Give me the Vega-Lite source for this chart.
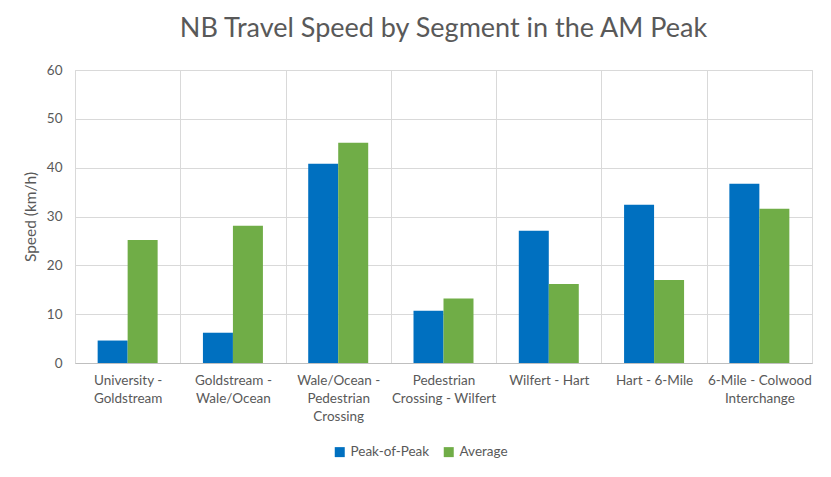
{
  "$schema": "https://vega.github.io/schema/vega-lite/v6.json",
  "autosize": "none",
  "width": 737,
  "height": 293,
  "padding": {"left": 75, "top": 70, "right": 19, "bottom": 114},
  "background": "white",
  "title": {
    "text": "NB Travel Speed by Segment in the AM Peak",
    "font": "Lato",
    "fontSize": 27,
    "fontWeight": "normal",
    "color": "#595959",
    "anchor": "middle",
    "offset": 20
  },
  "data": {
    "values": [
      {"segment": "University -|Goldstream", "series": "Peak-of-Peak", "speed": 4.6},
      {"segment": "University -|Goldstream", "series": "Average", "speed": 25.2},
      {"segment": "Goldstream -|Wale/Ocean", "series": "Peak-of-Peak", "speed": 6.2},
      {"segment": "Goldstream -|Wale/Ocean", "series": "Average", "speed": 28.1},
      {"segment": "Wale/Ocean -|Pedestrian|Crossing", "series": "Peak-of-Peak", "speed": 40.8},
      {"segment": "Wale/Ocean -|Pedestrian|Crossing", "series": "Average", "speed": 45.1},
      {"segment": "Pedestrian|Crossing - Wilfert", "series": "Peak-of-Peak", "speed": 10.7},
      {"segment": "Pedestrian|Crossing - Wilfert", "series": "Average", "speed": 13.2},
      {"segment": "Wilfert - Hart", "series": "Peak-of-Peak", "speed": 27.1},
      {"segment": "Wilfert - Hart", "series": "Average", "speed": 16.2},
      {"segment": "Hart - 6-Mile", "series": "Peak-of-Peak", "speed": 32.4},
      {"segment": "Hart - 6-Mile", "series": "Average", "speed": 17.0},
      {"segment": "6-Mile - Colwood|Interchange", "series": "Peak-of-Peak", "speed": 36.7},
      {"segment": "6-Mile - Colwood|Interchange", "series": "Average", "speed": 31.6}
    ]
  },
  "mark": {"type": "bar"},
  "encoding": {
    "x": {
      "field": "segment",
      "type": "nominal",
      "sort": null,
      "scale": {"paddingInner": 0, "paddingOuter": 0},
      "axis": {
        "title": null,
        "labelAngle": 0,
        "labelExpr": "isValid(datum.value) ? split(datum.value, '|') : ''",
        "labelLineHeight": 18,
        "labelFont": "Lato",
        "labelFontSize": 13.5,
        "labelColor": "#595959",
        "labelPadding": 10,
        "labelLimit": 0,
        "ticks": false,
        "tickBand": "extent",
        "grid": true,
        "gridColor": "#d9d9d9",
        "domainColor": "#bfbfbf"
      }
    },
    "xOffset": {
      "field": "series",
      "type": "nominal",
      "sort": ["Peak-of-Peak", "Average"],
      "scale": {"paddingInner": 0, "paddingOuter": 0.755}
    },
    "y": {
      "field": "speed",
      "type": "quantitative",
      "scale": {"domain": [0, 60]},
      "axis": {
        "values": [0, 10, 20, 30, 40, 50, 60],
        "title": "Speed (km/h)",
        "titleFont": "Lato",
        "titleFontSize": 15.5,
        "titleFontWeight": "normal",
        "titleColor": "#595959",
        "titlePadding": 8,
        "labelFont": "Lato",
        "labelFontSize": 13.5,
        "labelColor": "#595959",
        "labelPadding": 13,
        "domain": false,
        "ticks": false,
        "gridColor": "#d9d9d9"
      }
    },
    "color": {
      "field": "series",
      "type": "nominal",
      "sort": ["Peak-of-Peak", "Average"],
      "scale": {"domain": ["Peak-of-Peak", "Average"], "range": ["#0070C0", "#70AD47"]},
      "legend": {
        "title": null,
        "orient": "none",
        "direction": "horizontal",
        "legendX": 258,
        "legendY": 375,
        "symbolType": "square",
        "symbolSize": 100,
        "symbolStrokeWidth": 0,
        "labelFont": "Lato",
        "labelFontSize": 13.5,
        "labelColor": "#595959",
        "labelOffset": 4,
        "columnPadding": 12
      }
    }
  },
  "config": {
    "view": {"stroke": "#d9d9d9"}
  }
}
